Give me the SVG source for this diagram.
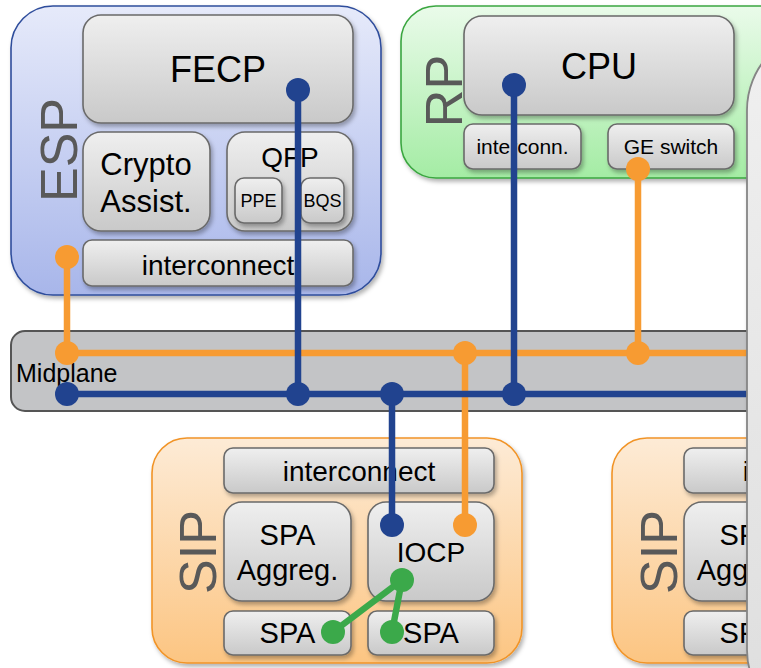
<svg xmlns="http://www.w3.org/2000/svg" width="761" height="668" viewBox="0 0 761 668">
<defs>
<linearGradient id="gEsp" x1="0" y1="0" x2="0" y2="1"><stop offset="0" stop-color="#e6eafa"/><stop offset="1" stop-color="#a8b6ea"/></linearGradient>
<linearGradient id="gRp" x1="0" y1="0" x2="0" y2="1"><stop offset="0" stop-color="#eafbea"/><stop offset="1" stop-color="#a4eca4"/></linearGradient>
<linearGradient id="gSip" x1="0" y1="0" x2="0" y2="1"><stop offset="0" stop-color="#fdebd6"/><stop offset="1" stop-color="#fcc582"/></linearGradient>
<linearGradient id="gBox" x1="0" y1="0" x2="0" y2="1"><stop offset="0" stop-color="#efefef"/><stop offset="1" stop-color="#c9c9c9"/></linearGradient>
<linearGradient id="gPanel" x1="0" y1="0" x2="0" y2="1"><stop offset="0" stop-color="#f0f0f0"/><stop offset="1" stop-color="#dedede"/></linearGradient>
<filter id="sh" x="-10%" y="-10%" width="130%" height="130%"><feDropShadow dx="2" dy="3" stdDeviation="2" flood-color="#000" flood-opacity="0.3"/></filter>
</defs>
<style>
.outer{stroke-width:1.6}
.esp{fill:url(#gEsp);stroke:#2f4d9c}
.rp{fill:url(#gRp);stroke:#3aa640}
.sip{fill:url(#gSip);stroke:#f19428}
.box{fill:url(#gBox);stroke:#6a6a6a;stroke-width:1.6;filter:url(#sh)}
text{font-family:"Liberation Sans",Arial,sans-serif;fill:#000;text-anchor:middle}
.lbl{font-size:52px;fill:#595959}
.blue{stroke:#21438f;stroke-width:6.5;fill:none}
.orange{stroke:#f79b32;stroke-width:6.5;fill:none}
.green{stroke:#3ba94a;stroke-width:6.5;fill:none}
.bd{fill:#21438f}
.od{fill:#f79b32}
.gd{fill:#3ba94a}
</style>

<g id="midplane">
<rect x="11" y="331" width="780" height="80" rx="14" fill="#c3c4c6" stroke="#555" stroke-width="2"/>
<text x="16" y="382" style="font-size:25px;text-anchor:start">Midplane</text>
</g>

<g id="esp">
<rect class="outer esp" x="11" y="6" width="370" height="289" rx="42" filter="url(#sh)"/>
<text class="lbl" transform="translate(77,150) rotate(-90)">ESP</text>
<g id="fecp"><rect class="box" x="83" y="15" width="270" height="108" rx="18"/><text x="218" y="82" style="font-size:36px">FECP</text></g>
<g id="crypto"><rect class="box" x="83" y="132" width="127" height="99" rx="18"/><text x="146" y="175" style="font-size:31px">Crypto</text><text x="146" y="212" style="font-size:31px">Assist.</text></g>
<g id="qfp"><rect class="box" x="227" y="132" width="126" height="99" rx="18"/><text x="290" y="167" style="font-size:28px">QFP</text>
<g id="ppe"><rect class="box" x="235" y="178" width="47" height="45" rx="9"/><text x="258.5" y="207" style="font-size:18px">PPE</text></g>
<g id="bqs"><rect class="box" x="301" y="178" width="43" height="45" rx="9"/><text x="322.5" y="207" style="font-size:18px">BQS</text></g>
</g>
<g id="esp-ic"><rect class="box" x="83" y="240" width="270" height="46" rx="9"/><text x="218" y="275" style="font-size:28px">interconnect</text></g>
</g>

<g id="rp">
<rect class="outer rp" x="401" y="6" width="400" height="172" rx="35" filter="url(#sh)"/>
<text class="lbl" transform="translate(462,91) rotate(-90)">RP</text>
<g id="cpu"><rect class="box" x="464" y="16" width="270" height="99" rx="18"/><text x="599" y="79" style="font-size:36px">CPU</text></g>
<g id="rp-ic"><rect class="box" x="464" y="124" width="117" height="45" rx="9"/><text x="522.5" y="154" style="font-size:21px">interconn.</text></g>
<g id="ge"><rect class="box" x="608" y="124" width="126" height="45" rx="9"/><text x="671" y="154" style="font-size:21px">GE switch</text></g>
</g>

<g id="sip1">
<rect class="outer sip" x="152" y="438" width="370" height="225" rx="35" filter="url(#sh)"/>
<text class="lbl" transform="translate(216,552) rotate(-90)">SIP</text>
<g id="sip1-ic"><rect class="box" x="224" y="448" width="270" height="45" rx="9"/><text x="359" y="481" style="font-size:28px">interconnect</text></g>
<g id="sip1-agg"><rect class="box" x="224" y="502" width="127" height="99" rx="18"/><text x="287.5" y="545" style="font-size:29px">SPA</text><text x="287.5" y="580" style="font-size:29px">Aggreg.</text></g>
<g id="iocp"><rect class="box" x="368" y="502" width="126" height="99" rx="18"/><text x="431" y="562" style="font-size:28px">IOCP</text></g>
<g id="sip1-spa1"><rect class="box" x="224" y="611" width="127" height="44" rx="9"/><text x="287.5" y="643" style="font-size:29px">SPA</text></g>
<g id="sip1-spa2"><rect class="box" x="368" y="611" width="126" height="44" rx="9"/><text x="431" y="643" style="font-size:29px">SPA</text></g>
</g>

<g id="sip2">
<rect class="outer sip" x="612" y="438" width="370" height="225" rx="35" filter="url(#sh)"/>
<text class="lbl" transform="translate(677,552) rotate(-90)">SIP</text>
<g id="sip2-ic"><rect class="box" x="684" y="448" width="270" height="45" rx="9"/><text x="819" y="481" style="font-size:28px">interconnect</text></g>
<g id="sip2-agg"><rect class="box" x="684" y="502" width="127" height="99" rx="18"/><text x="747.5" y="545" style="font-size:29px">SPA</text><text x="747.5" y="580" style="font-size:29px">Aggreg.</text></g>
<g id="sip2-spa1"><rect class="box" x="684" y="611" width="127" height="44" rx="9"/><text x="747.5" y="643" style="font-size:29px">SPA</text></g>
</g>

<g id="connectors">
<path class="orange" d="M67 257V353M67 353H761M638 169V353M465 353V525"/>
<path class="blue" d="M298 90V394M514 85V394M67 394H761M392 394V525"/>
<path class="green" d="M402 580L333 632M402 580L392 632"/>
<circle class="od" cx="67" cy="257" r="12"/>
<circle class="od" cx="67" cy="353" r="12"/>
<circle class="od" cx="465" cy="353" r="12"/>
<circle class="od" cx="638" cy="353" r="12"/>
<circle class="od" cx="638" cy="169" r="12"/>
<circle class="od" cx="465" cy="525" r="12"/>
<circle class="bd" cx="298" cy="90" r="12"/>
<circle class="bd" cx="514" cy="85" r="12"/>
<circle class="bd" cx="67" cy="394" r="12"/>
<circle class="bd" cx="298" cy="394" r="12"/>
<circle class="bd" cx="392" cy="394" r="12"/>
<circle class="bd" cx="514" cy="394" r="12"/>
<circle class="bd" cx="392" cy="525" r="12"/>
<circle class="gd" cx="402" cy="580" r="12"/>
<circle class="gd" cx="333" cy="632" r="12"/>
<circle class="gd" cx="392" cy="632" r="12"/>
</g>

<g id="panel">
<rect x="747" y="30" width="200" height="700" rx="80" fill="url(#gPanel)" stroke="#858585" stroke-width="1.8" filter="url(#sh)"/>
</g>
</svg>
